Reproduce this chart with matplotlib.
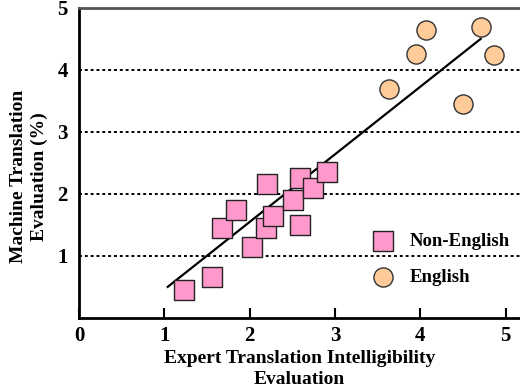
"""
Scatter of machine vs expert translation evaluation, with fitted line
"""
import numpy as np
import matplotlib.pyplot as plt

# Non-English documents
non_eng_x = [1.23, 1.56, 1.68, 1.84, 2.03, 2.20, 2.19, 2.27, 2.51, 2.59, 2.59, 2.74, 2.91]
non_eng_y = [0.45, 0.66, 1.45, 1.74, 1.15, 2.16, 1.45, 1.65, 1.90, 1.50, 2.26, 2.10, 2.35]

# English documents
eng_x = [4.07, 4.71, 3.95, 4.86, 3.63, 4.50]
eng_y = [4.65, 4.69, 4.26, 4.24, 3.69, 3.45]

# fitted line end points
fit_x = [1.04, 4.71]
fit_y = [0.50, 4.50]

x_ticks = [0, 1, 2, 3, 4, 5]
y_ticks = [1, 2, 3, 4, 5]

plt.rcParams['font.family'] = ['Liberation Serif', 'DejaVu Serif']
plt.rcParams['font.weight'] = 'bold'

fig = plt.figure(figsize=(5.2, 3.9), dpi=100)
ax = fig.add_axes([0.152, 0.185, 0.848, 0.795])

# dotted gridlines
for yv in y_ticks[:-1]:
    ax.axhline(yv, color='black', lw=1.4, ls=(0, (1.5, 1.5)), zorder=1)

ax.plot(fit_x, fit_y, color='black', lw=1.6, zorder=2)
ax.scatter(non_eng_x, non_eng_y, marker='s', s=200, c='#ff99cc',
           edgecolors='#222222', linewidths=1.0, zorder=3, label='Non-English')
ax.scatter(eng_x, eng_y, marker='o', s=190, c='#ffcc99',
           edgecolors='#333333', linewidths=1.0, zorder=3, label='English')

ax.set_xlim(0, 5.17)
ax.set_ylim(0, 5)
ax.set_xticks(x_ticks)
ax.set_yticks(y_ticks)
ax.tick_params(axis='x', direction='in', length=7, width=1.5, labelsize=15, pad=6)
ax.tick_params(axis='y', length=0, labelsize=15, pad=8)
for lab in ax.get_xticklabels() + ax.get_yticklabels():
    lab.set_fontweight('bold')

ax.spines['right'].set_visible(False)
ax.spines['left'].set_linewidth(2)
ax.spines['bottom'].set_linewidth(2)
ax.spines['top'].set_linewidth(2)
ax.spines['top'].set_color('#555555')

ax.set_xlabel('Expert Translation Intelligibility\nEvaluation', fontsize=14,
              fontweight='bold', linespacing=1.3)
ax.xaxis.set_label_coords(0.5, -0.105)
ax.set_ylabel('Machine Translation\nEvaluation (%)', fontsize=14,
              fontweight='bold', linespacing=1.3)
ax.yaxis.set_label_coords(-0.07, 0.455)

ax.legend(loc='upper left', bbox_to_anchor=(0.625, 0.305), frameon=False,
          fontsize=13.5, labelspacing=1.0, handletextpad=0.45, borderpad=0)

plt.savefig('out.png', dpi=100)
